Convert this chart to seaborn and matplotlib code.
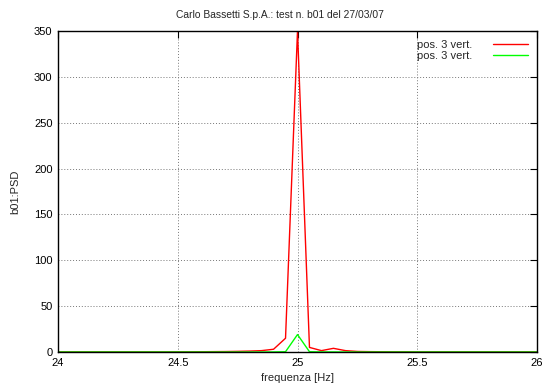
import matplotlib
matplotlib.use("Agg")
import matplotlib.pyplot as plt
import numpy as np
import pandas as pd
import seaborn as sns

# frequenze campionate a passo 0.05 Hz tra 24 e 26 Hz
FREQ = [round(24 + 0.05 * i, 2) for i in range(41)]

# PSD canale rosso (pos. 3 vert.)
PSD_RED = [
    0.1, 0.1, 0.1, 0.1, 0.1, 0.1, 0.1, 0.1, 0.1, 0.1,
    0.2, 0.2, 0.3, 0.4, 0.5, 0.7, 1.0, 1.5, 3.0, 15.0,
    350.0,
    5.0, 1.5, 4.0, 1.5, 0.6, 0.4, 0.3, 0.2, 0.2, 0.1,
    0.1, 0.1, 0.1, 0.1, 0.1, 0.1, 0.1, 0.1, 0.1, 0.1,
]

# PSD canale verde (pos. 3 vert.)
PSD_GREEN = [
    0.0, 0.0, 0.0, 0.0, 0.0, 0.0, 0.0, 0.0, 0.0, 0.0,
    0.0, 0.0, 0.0, 0.0, 0.0, 0.0, 0.0, 0.0, 0.1, 0.3,
    19.0,
    0.3, 0.1, 0.1, 0.0, 0.0, 0.0, 0.0, 0.0, 0.0, 0.0,
    0.0, 0.0, 0.0, 0.0, 0.0, 0.0, 0.0, 0.0, 0.0, 0.0,
]

X_TICKS = [24, 24.5, 25, 25.5, 26]
X_TICKLABELS = ["24", "24.5", "25", "25.5", "26"]
Y_TICKS = [0, 50, 100, 150, 200, 250, 300, 350]

sns.set_style("white")
plt.rcParams["font.family"] = ["Liberation Sans", "DejaVu Sans"]
plt.rcParams["font.size"] = 8

df = pd.DataFrame({"freq": FREQ, "red": PSD_RED, "green": PSD_GREEN})

fig = plt.figure(figsize=(5.46, 3.87), dpi=100)
ax = fig.add_axes([58 / 546, 1 - 352 / 387, 479 / 546, 321 / 387])

sns.lineplot(data=df, x="freq", y="red", color="#ff0000", lw=1.0,
             label="pos. 3 vert.", ax=ax)
sns.lineplot(data=df, x="freq", y="green", color="#00ff00", lw=1.0,
             label="pos. 3 vert.", ax=ax)

ax.set_xlim(24, 26)
ax.set_ylim(0, 350)
ax.set_xticks(X_TICKS)
ax.set_xticklabels(X_TICKLABELS)
ax.set_yticks(Y_TICKS)
ax.tick_params(direction="in", length=5, width=0.8, top=True, right=True,
               labelsize=8, colors="black", pad=4)
ax.grid(True, color="#777777", linestyle=(0, (1, 2)), linewidth=0.7)
for s in ax.spines.values():
    s.set_color("black")
    s.set_linewidth(1.0)

fig.text(280 / 546, 1 - 15 / 387, "Carlo Bassetti S.p.A.: test n. b01 del 27/03/07",
         fontsize=7.4, ha="center", va="center")
ax.set_xlabel("frequenza [Hz]", fontsize=8, labelpad=4)
ax.set_ylabel("b01:PSD", fontsize=8, labelpad=10)

ax.legend(loc="upper right", frameon=False, markerfirst=False,
          handlelength=3.2, handletextpad=1.8, labelspacing=0.1,
          borderaxespad=0.4, fontsize=8)

fig.savefig("out.png", dpi=100)
